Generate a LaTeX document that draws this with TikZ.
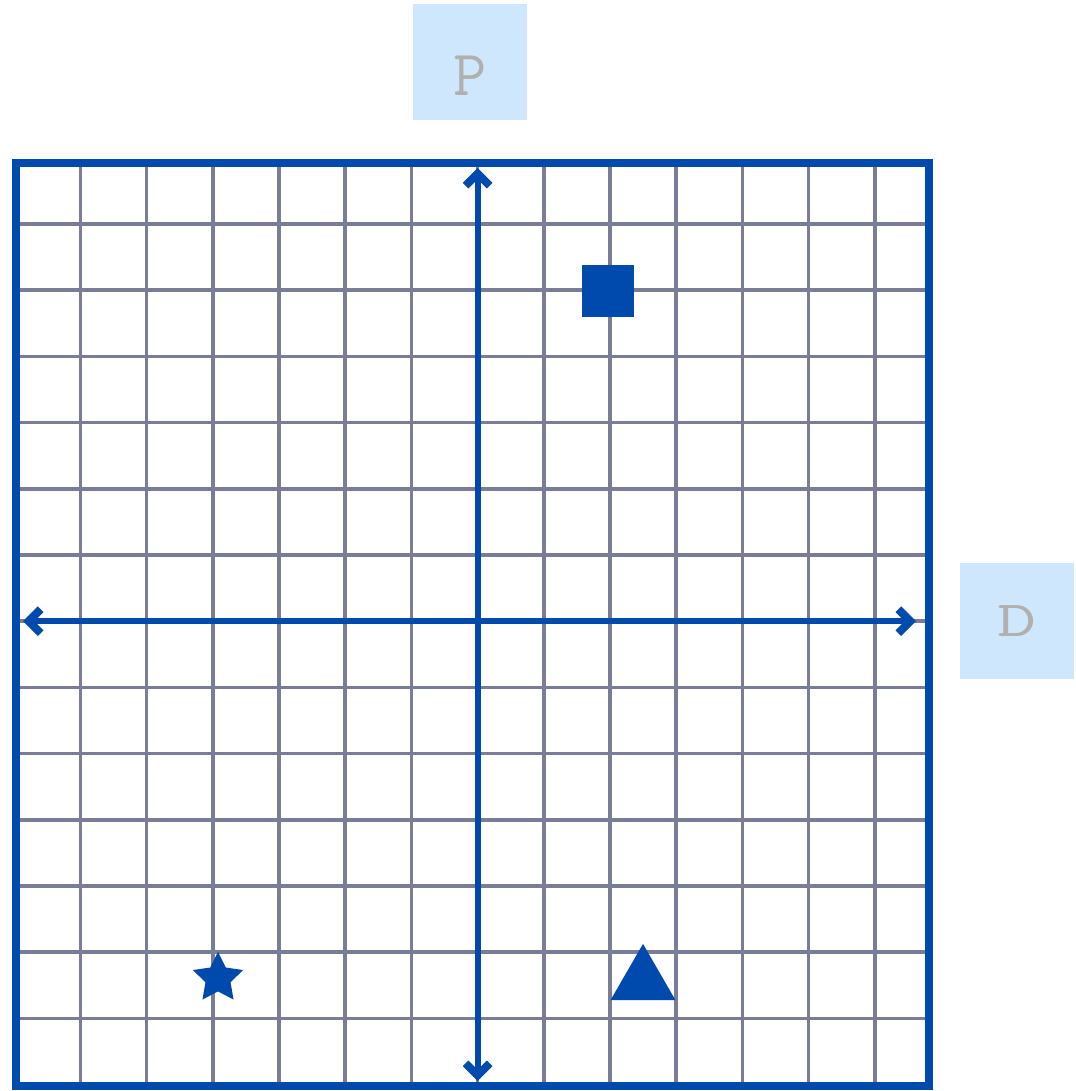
\documentclass[tikz,border=0pt]{standalone}
\usepackage{tikz}
\usetikzlibrary{arrows.meta,shapes.geometric}

\definecolor{frameblue}{RGB}{0,74,173}
\definecolor{gridline}{RGB}{122,125,150}
\definecolor{labelfill}{RGB}{207,231,252}
\definecolor{labelgray}{RGB}{176,176,176}

\begin{document}
\begin{tikzpicture}[x=1mm,y=1mm,line cap=butt,line join=miter,
    labelbox/.style={fill=labelfill,inner sep=0pt,minimum width=28.5mm,minimum height=29mm,
                     text=labelgray,font=\ttfamily},
    marker/.style={fill=frameblue,draw=none,inner sep=0pt}]
  \path[use as bounding box] (0,0) rectangle (269.00,272.75);   % bbox = 1076 x 1091 px, 0.25 mm/px
  % ---- grid (cell 66.2 px = 16.55 mm) ----
  \foreach \k in {0,...,12} {
    \draw[gridline,line width=0.9mm] ({20.1+16.55*\k},1.25) -- ({20.1+16.55*\k},232.00);   % px x = 80.4 + 66.2k
    \draw[gridline,line width=0.9mm] (4.00,{216.75-16.55*\k}) -- (232.25,{216.75-16.55*\k}); % px y = 224 + 66.2k
  }
  % ---- frame ----
  \draw[frameblue,line width=2mm] (4.00,1.25) rectangle (232.25,232.00);   % px x[16,929] y[163,1086]
  % ---- axes ----
  \coordinate (left)   at (  5.75,117.45);   % px(  23, 621)
  \coordinate (right)  at (229.00,117.45);   % px( 916, 621)
  \coordinate (top)    at (119.40,230.75);   % px( 477, 168)
  \coordinate (bottom) at (119.40,  2.50);   % px( 477,1081)
  \draw[frameblue,line width=1.5mm,{Straight Barb[length=3mm,width=6mm,line width=2mm]}-{Straight Barb[length=3mm,width=6mm,line width=2mm]}] (left) -- (right);
  \draw[frameblue,line width=1.5mm,{Straight Barb[length=3mm,width=6mm,line width=2mm]}-{Straight Barb[length=3mm,width=6mm,line width=2mm]}] (top) -- (bottom);
  % ---- axis labels ----
  \node[labelbox,text height=17mm,text depth=0mm,font=\ttfamily\fontsize{46pt}{50pt}\selectfont] (pbox) at (117.50,257.25) {P};  % px box x[413,527] y[5,119]
  \node[labelbox,font=\ttfamily\fontsize{36pt}{40pt}\selectfont] (dbox) at (254.25,117.50) {\scalebox{1.5}[1]{D}};            % px box x[960,1074] y[565,678]
  % ---- markers ----
  \node[marker,rectangle,minimum size=13mm] (square) at (152.00,200.00) {};   % px x[582,634] y[265,317]
  \node[marker,star,star points=5,star point ratio=2.0,minimum size=13.2mm] (star) at (54.50,28.20) {};   % px x[193,243] y[952,999]
  \node[marker,regular polygon,regular polygon sides=3,minimum size=18.75mm] (triangle) at (160.75,27.40) {};   % px x[610,677] y[944,999]
\end{tikzpicture}
\end{document}
